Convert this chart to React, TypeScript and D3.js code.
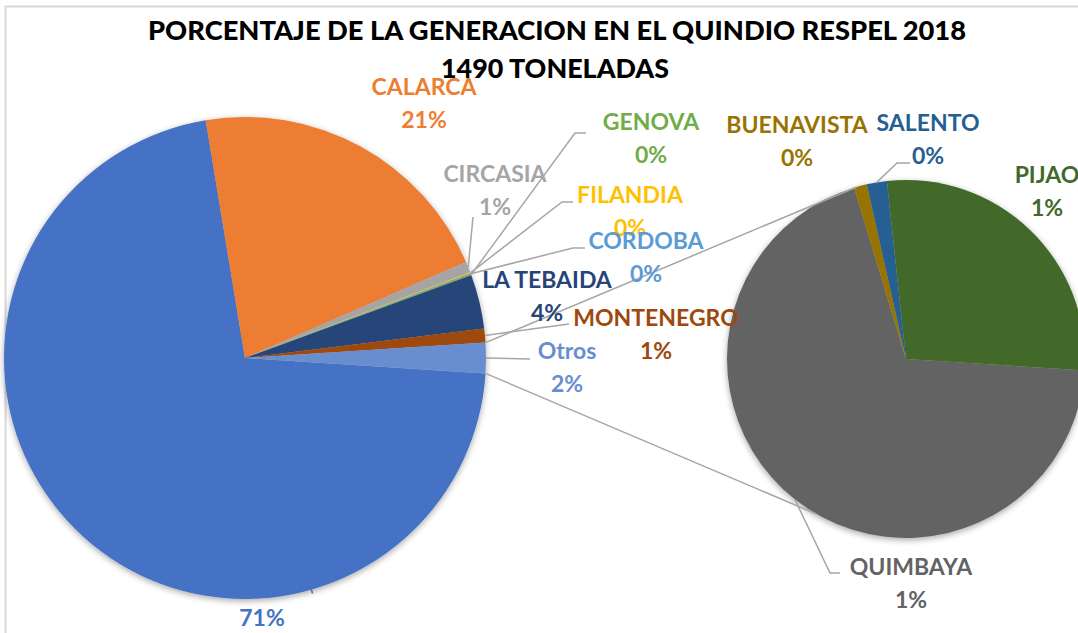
import React from 'react';
import * as d3 from 'd3';

// main pie: municipios (toneladas), Otros is built from the second pie
const mainNames = ['ARMENIA', 'CALARCA', 'CIRCASIA', 'FILANDIA', 'CORDOBA', 'GENOVA', 'LA TEBAIDA', 'MONTENEGRO'];
const mainValues = [1063, 314, 11, 1, 1, 1, 54, 14];
const mainColors = ['#4472C4', '#ED7D31', '#A5A5A5', '#FFC000', '#5B9BD5', '#70AD47', '#264478', '#9E480E'];

// second pie (Otros)
const otherNames = ['QUIMBAYA', 'BUENAVISTA', 'SALENTO', 'PIJAO'];
const otherValues = [21, 0.35, 0.55, 8.4];
const otherColors = ['#636363', '#997300', '#255E91', '#43682B'];
const otrosColor = '#698ED0';

const title1 = 'PORCENTAJE DE LA GENERACION EN EL QUINDIO RESPEL 2018';
const title2 = '1490 TONELADAS';

const W = 1078;
const H = 633;
const font = 'Lato, "Open Sans", sans-serif';
const lineColor = '#A6A6A6';

// label placement: x centre, baseline of the name, leader points after the slice edge
const labelPos = {
    ARMENIA: {x: 262, y: 593, hideName: true, edgeAngle: 164, tick: 4},
    CALARCA: {x: 424, y: 95},
    CIRCASIA: {x: 495, y: 182, leader: [[473, 217]]},
    FILANDIA: {x: 630, y: 203, leader: [[562, 202], [573, 202]]},
    CORDOBA: {x: 646, y: 249, leader: [[573, 248], [585, 248]]},
    GENOVA: {x: 651, y: 130, leader: [[575, 133], [586, 133]]},
    'LA TEBAIDA': {x: 547, y: 288},
    MONTENEGRO: {x: 656, y: 326, leader: [[569, 324]]},
    Otros: {x: 567, y: 359, leader: [[530, 359]]},
    QUIMBAYA: {x: 911, y: 575, leader: [[830, 573], [840, 573]]},
    BUENAVISTA: {x: 797, y: 133},
    SALENTO: {x: 928, y: 131, leader: [[897, 163], [910, 163]]},
    PIJAO: {x: 1047, y: 183},
};

const App = () => {
    const otros = d3.sum(otherValues);
    const names = [...mainNames, 'Otros'];
    const values = [...mainValues, otros];
    const colors = [...mainColors, otrosColor];
    const total = d3.sum(values);

    const main = {cx: 245, cy: 358, r: 241};
    const second = {cx: 906, cy: 359, r: 179};

    // Otros centred on 3 o'clock, both pies share the rotation
    const start = Math.PI / 2 + Math.PI * otros / total;

    const pieGen = d3.pie<number>().sort(null).startAngle(start).endAngle(start + 2 * Math.PI);
    const mainArcs = pieGen(values);
    const secondArcs = pieGen(otherValues);

    const arcMain = d3.arc<any>().innerRadius(0).outerRadius(main.r);
    const arcSecond = d3.arc<any>().innerRadius(0).outerRadius(second.r);

    const pt = (p, a, dr = 0) => [p.cx + (p.r + dr) * Math.sin(a), p.cy - (p.r + dr) * Math.cos(a)];
    const pct = d3.format('.0%');
    const deg = d => d * Math.PI / 180;

    const otrosArc = mainArcs[mainArcs.length - 1];
    const conTop = [pt(main, otrosArc.startAngle), pt(second, deg(344))];
    const conBottom = [pt(main, otrosArc.endAngle), pt(second, deg(210))];

    const labels = [
        ...mainArcs.map((a, i) => ({name: names[i], color: colors[i], value: values[i], pie: main, mid: (a.startAngle + a.endAngle) / 2})),
        ...secondArcs.map((a, i) => ({name: otherNames[i], color: otherColors[i], value: otherValues[i], pie: second, mid: (a.startAngle + a.endAngle) / 2})),
    ];

    return (
        <svg width={W} height={H} style={{position: 'absolute', left: 0, top: 0, background: '#fff'}}>
            <defs>
                <filter id='shadow' x='-20%' y='-20%' width='140%' height='140%'>
                    <feDropShadow dx='0' dy='2' stdDeviation='3' floodColor='#000' floodOpacity='0.35'/>
                </filter>
            </defs>
            <rect x={5.5} y={6.5} width={W + 10} height={H + 10} fill='#fff' stroke='#D9D9D9' strokeWidth={2}/>

            <text x={557} y={40} textAnchor='middle' fontFamily={font} fontWeight='900' fontSize={26}
                textLength={818} lengthAdjust='spacingAndGlyphs' fill='#000'>{title1}</text>
            <text x={555} y={78} textAnchor='middle' fontFamily={font} fontWeight='900' fontSize={26}
                textLength={228} lengthAdjust='spacingAndGlyphs' fill='#000'>{title2}</text>

            <g filter='url(#shadow)'>
                <g transform={`translate(${main.cx},${main.cy})`}>
                    {mainArcs.map((a, i) => (
                        <path key={names[i]} d={arcMain(a)} fill={colors[i]}/>
                    ))}
                </g>
            </g>
            <g filter='url(#shadow)'>
                <g transform={`translate(${second.cx},${second.cy})`}>
                    {secondArcs.map((a, i) => (
                        <path key={otherNames[i]} d={arcSecond(a)} fill={otherColors[i]}/>
                    ))}
                </g>
            </g>

            {[conTop, conBottom].map((l, i) => (
                <line key={i} x1={l[0][0]} y1={l[0][1]} x2={l[1][0]} y2={l[1][1]} stroke={lineColor} strokeWidth={1.5}/>
            ))}

            {labels.map(l => {
                const pos = labelPos[l.name];
                let leader = null;
                if (pos.leader) leader = [pt(l.pie, l.mid), ...pos.leader];
                if (pos.tick) leader = [pt(l.pie, deg(pos.edgeAngle), -1), pt(l.pie, deg(pos.edgeAngle), pos.tick)];
                return (
                    <g key={l.name}>
                        {leader && (
                            <polyline points={leader.map(p => p.join(',')).join(' ')} fill='none'
                                stroke={pos.tick ? l.color : lineColor} strokeWidth={1.5}/>
                        )}
                        <text textAnchor='middle' fontFamily={font} fontWeight='bold' fontSize={23} fill={l.color}>
                            {!pos.hideName && <tspan x={pos.x} y={pos.y}>{l.name}</tspan>}
                            <tspan x={pos.x} y={pos.y + 33}>{pct(l.value / total)}</tspan>
                        </text>
                    </g>
                );
            })}
        </svg>
    );
};

export default App;
